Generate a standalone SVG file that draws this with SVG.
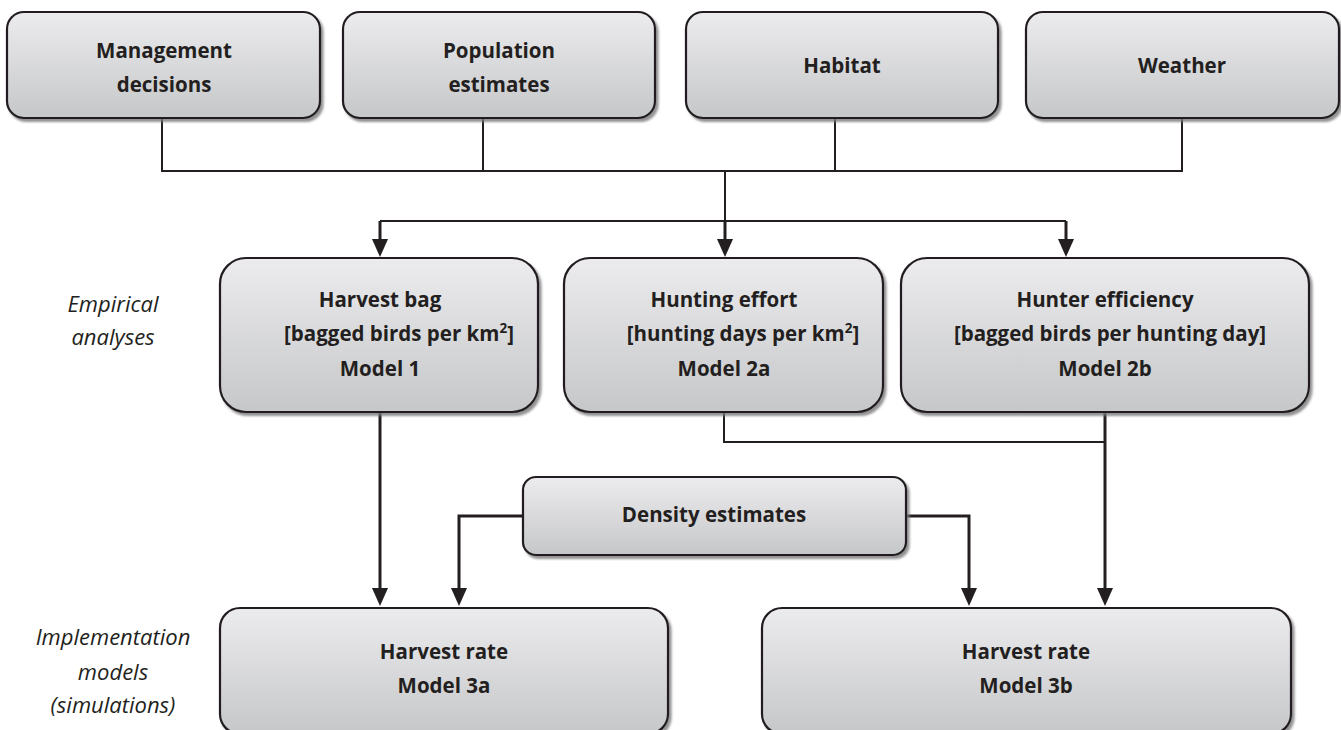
<svg xmlns="http://www.w3.org/2000/svg" width="1341" height="730" viewBox="0 0 1341 730">
<defs>
<linearGradient id="g" x1="0" y1="0" x2="0" y2="1">
<stop offset="0" stop-color="#ececee"/>
<stop offset="1" stop-color="#c6c7c9"/>
</linearGradient>
<filter id="sh" x="-5%" y="-5%" width="112%" height="120%">
<feDropShadow dx="2.5" dy="3" stdDeviation="1.2" flood-color="#777" flood-opacity="0.8"/>
</filter>
<marker id="ah" markerUnits="userSpaceOnUse" markerWidth="18" markerHeight="16" refX="10" refY="8" orient="auto" viewBox="0 0 18 16">
<path d="M0,0 L18,8 L0,16 z" fill="#231f20"/>
</marker>
</defs>
<style>
.box{fill:url(#g);stroke:#231f20;stroke-width:2.2;filter:url(#sh)}
.t{font-family:"Open Sans","Liberation Sans",sans-serif;font-weight:bold;font-size:20.5px;fill:#231f20;text-anchor:middle}
.side{font-family:"Open Sans","Liberation Sans",sans-serif;font-style:italic;font-size:22px;fill:#231f20;text-anchor:middle}
.thin{fill:none;stroke:#231f20;stroke-width:2}
.arr{fill:none;stroke:#231f20;stroke-width:3;marker-end:url(#ah)}
.sup{font-size:13.5px}
</style>

<g id="connectors">
<path class="thin" d="M162,118 V171 H1182 V118 M483,118 V171 M835,118 V171 M725,171 V221 M380,221 H1066"/>
<path class="arr" d="M380,221 V249"/>
<path class="arr" d="M725,221 V249"/>
<path class="arr" d="M1066,221 V249"/>
<path class="thin" d="M724,412 V442 H1105"/>
<path class="arr" d="M380,412 V598"/>
<path class="arr" d="M1105,412 V598"/>
<path class="arr" d="M523,516 H459 V598"/>
<path class="arr" d="M906,516 H969 V598"/>
</g>

<g id="management">
<rect class="box" x="7" y="12" width="313" height="106" rx="17"/>
<text class="t" x="164" y="58">Management</text>
<text class="t" x="164" y="92">decisions</text>
</g>
<g id="population">
<rect class="box" x="343" y="12" width="312" height="106" rx="17"/>
<text class="t" x="499" y="58">Population</text>
<text class="t" x="499" y="92">estimates</text>
</g>
<g id="habitat">
<rect class="box" x="686" y="12" width="312" height="106" rx="17"/>
<text class="t" x="842" y="73">Habitat</text>
</g>
<g id="weather">
<rect class="box" x="1026" y="12" width="313" height="106" rx="17"/>
<text class="t" x="1182" y="73">Weather</text>
</g>

<g id="label-empirical">
<text class="side" x="113" y="312">Empirical</text>
<text class="side" x="113" y="345">analyses</text>
</g>
<g id="label-implementation">
<text class="side" x="113" y="645">Implementation</text>
<text class="side" x="113" y="680">models</text>
<text class="side" x="113" y="713">(simulations)</text>
</g>

<g id="harvest-bag">
<rect class="box" x="220" y="258" width="318" height="154" rx="26"/>
<text class="t" x="380" y="307">Harvest bag</text>
<text class="t" x="399" y="341">[bagged birds per km<tspan class="sup" dy="-8">2</tspan><tspan dy="8">]</tspan></text>
<text class="t" x="380" y="376">Model 1</text>
</g>
<g id="hunting-effort">
<rect class="box" x="564" y="258" width="319" height="154" rx="26"/>
<text class="t" x="724" y="307">Hunting effort</text>
<text class="t" x="743" y="341">[hunting days per km<tspan class="sup" dy="-8">2</tspan><tspan dy="8">]</tspan></text>
<text class="t" x="724" y="376">Model 2a</text>
</g>
<g id="hunter-efficiency">
<rect class="box" x="901" y="258" width="408" height="154" rx="26"/>
<text class="t" x="1105" y="307">Hunter efficiency</text>
<text class="t" x="1110" y="341">[bagged birds per hunting day]</text>
<text class="t" x="1105" y="376">Model 2b</text>
</g>

<g id="density">
<rect class="box" x="523" y="477" width="383" height="78" rx="13"/>
<text class="t" x="714" y="522">Density estimates</text>
</g>

<g id="harvest-rate-3a">
<rect class="box" x="220" y="608" width="448" height="126" rx="20"/>
<text class="t" x="444" y="659">Harvest rate</text>
<text class="t" x="444" y="693">Model 3a</text>
</g>
<g id="harvest-rate-3b">
<rect class="box" x="762" y="608" width="529" height="126" rx="20"/>
<text class="t" x="1026" y="659">Harvest rate</text>
<text class="t" x="1026" y="693">Model 3b</text>
</g>
</svg>
